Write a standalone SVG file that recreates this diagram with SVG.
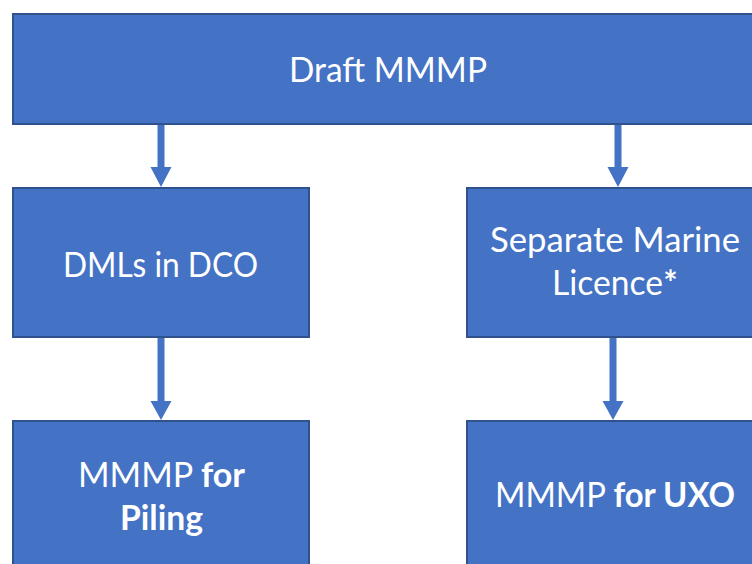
<svg xmlns="http://www.w3.org/2000/svg" width="752" height="564" viewBox="0 0 752 564">
<style>
.box{fill:#4472C4;stroke:#2F528F;stroke-width:2}
.arr{fill:#4472C4}
.t{fill:#ffffff;font-family:Lato,"Open Sans",sans-serif;font-size:34px;text-anchor:middle}
.b{font-weight:bold}
</style>
<rect width="752" height="564" fill="#ffffff"/>
<g id="connectors">
<polygon class="arr" points="157.5,125 164.5,125 164.5,167 171.5,167 161,187 150.5,167 157.5,167"/>
<polygon class="arr" points="614.5,125 621.5,125 621.5,167 628.5,167 618,187 607.5,167 614.5,167"/>
<polygon class="arr" points="157.5,338 164.5,338 164.5,401 171.5,401 161,420 150.5,401 157.5,401"/>
<polygon class="arr" points="609.5,338 616.5,338 616.5,401 623.5,401 613,420 602.5,401 609.5,401"/>
</g>
<g id="draft">
<rect class="box" x="13" y="14" width="752" height="110"/>
<text class="t" x="388" y="82" textLength="198" lengthAdjust="spacingAndGlyphs">Draft MMMP</text>
</g>
<g id="dmls">
<rect class="box" x="13" y="188" width="296" height="149"/>
<text class="t" x="160.5" y="277" textLength="195" lengthAdjust="spacingAndGlyphs">DMLs in DCO</text>
</g>
<g id="sml">
<rect class="box" x="467" y="188" width="296" height="149"/>
<text class="t" x="615" y="252" textLength="250" lengthAdjust="spacingAndGlyphs">Separate Marine</text>
<text class="t" x="607.5" y="295" textLength="111" lengthAdjust="spacingAndGlyphs">Licence</text>
<text class="t b" x="670.5" y="295">*</text>
</g>
<g id="piling">
<rect class="box" x="13" y="421" width="296" height="160"/>
<text class="t" x="161.5" y="487" textLength="167" lengthAdjust="spacingAndGlyphs">MMMP <tspan class="b">for</tspan></text>
<text class="t b" x="161.5" y="530" textLength="83" lengthAdjust="spacingAndGlyphs">Piling</text>
</g>
<g id="uxo">
<rect class="box" x="467" y="421" width="296" height="160"/>
<text class="t" x="615" y="507" textLength="240" lengthAdjust="spacingAndGlyphs">MMMP <tspan class="b">for UXO</tspan></text>
</g>
</svg>
